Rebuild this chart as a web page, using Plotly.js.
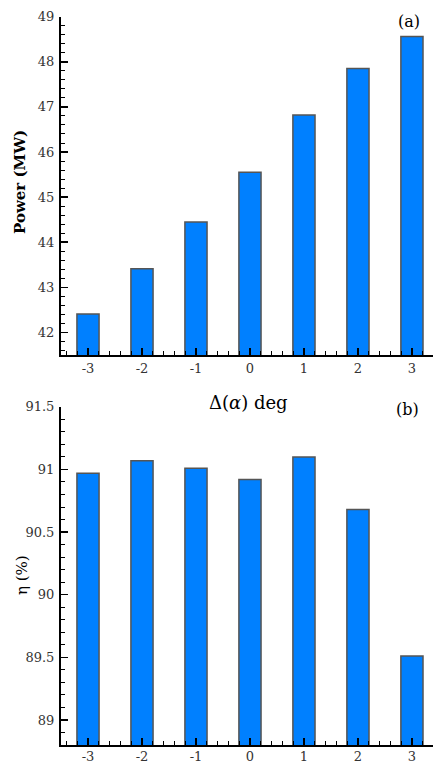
<!DOCTYPE html>
<html>
<head>
<meta charset="utf-8">
<script src="https://cdn.plot.ly/plotly-3.0.1.min.js"></script>
<style>html,body{margin:0;padding:0;background:#fff;}#chart{width:433px;height:763px;}</style>
</head>
<body>
<div id="chart"></div>
<script>
const categories = [-3, -2, -1, 0, 1, 2, 3];
const powerMW = [42.41, 43.41, 44.45, 45.55, 46.82, 47.85, 48.56];
const efficiency = [90.97, 91.07, 91.01, 90.92, 91.10, 90.68, 89.51];
const xTickLabels = ['-3', '-2', '-1', '0', '1', '2', '3'];

const H = 763, W = 433;
const fy = v => 1 - v / H;
const serif = 'DejaVu Serif';

const barStyle = {color: '#0080ff', line: {color: '#555555', width: 1.5}};

const traces = [
  {type: 'bar', x: categories, y: powerMW, width: 0.41, marker: barStyle, xaxis: 'x', yaxis: 'y', hoverinfo: 'none'},
  {type: 'bar', x: categories, y: efficiency, width: 0.41, marker: barStyle, xaxis: 'x2', yaxis: 'y2', hoverinfo: 'none'}
];

const xbase = {
  range: [-3.5, 3.39],
  domain: [61 / W, 1],
  tickmode: 'array', tickvals: categories, ticktext: xTickLabels,
  ticks: 'inside', ticklen: 7, tickwidth: 1.5, tickcolor: '#000',
  minor: {dtick: 0.2, tick0: 0, ticks: 'inside', ticklen: 4, tickwidth: 1, tickcolor: '#000'},
  showline: true, linecolor: '#000', linewidth: 2,
  showgrid: false, zeroline: false, automargin: false, fixedrange: true,
  tickfont: {family: serif, size: 13, color: '#333'}
};
const ybase = {
  ticks: 'inside', ticklen: 7, tickwidth: 1.5, tickcolor: '#000',
  showline: true, linecolor: '#000', linewidth: 2,
  showgrid: false, zeroline: false, automargin: false, fixedrange: true,
  tickfont: {family: serif, size: 13, color: '#333'}, ticklabelstandoff: 2
};

const layout = {
  width: W, height: H,
  margin: {l: 0, r: 0, t: 0, b: 0},
  paper_bgcolor: '#fff', plot_bgcolor: '#fff',
  font: {family: serif},
  showlegend: false,
  xaxis: Object.assign({}, xbase, {anchor: 'y'}),
  xaxis2: Object.assign({}, xbase, {anchor: 'y2', ticklabelstandoff: -2}),
  yaxis: Object.assign({}, ybase, {
    anchor: 'x', domain: [fy(355), fy(16.7)], range: [41.5, 49], dtick: 1, tick0: 0,
    minor: {dtick: 0.2, ticks: 'inside', ticklen: 4, tickwidth: 1, tickcolor: '#000'}
  }),
  yaxis2: Object.assign({}, ybase, {
    anchor: 'x2', domain: [fy(745), fy(406.8)], range: [88.8, 91.5], dtick: 0.5, tick0: 0,
    minor: {dtick: 0.1, ticks: 'inside', ticklen: 4, tickwidth: 1, tickcolor: '#000'}
  }),
  annotations: [
    {text: '<b>Power (MW)</b>', textangle: -90, xref: 'paper', yref: 'paper', x: 20 / W, y: fy(182),
     xanchor: 'center', yanchor: 'middle', showarrow: false, font: {family: serif, size: 15, color: '#000'}},
    {text: 'η (%)', textangle: -90, xref: 'paper', yref: 'paper', x: 22 / W, y: fy(575),
     xanchor: 'center', yanchor: 'middle', showarrow: false, font: {family: serif, size: 15, color: '#000'}},
    {text: 'Δ(<i>α</i>) deg', xref: 'paper', yref: 'paper', x: 248 / W, y: fy(402),
     xanchor: 'center', yanchor: 'middle', showarrow: false, font: {family: serif, size: 18, color: '#000'}},
    {text: '(a)', xref: 'paper', yref: 'paper', x: 409 / W, y: fy(21),
     xanchor: 'center', yanchor: 'middle', showarrow: false, font: {family: serif, size: 16, color: '#000'}},
    {text: '(b)', xref: 'paper', yref: 'paper', x: 407 / W, y: fy(409),
     xanchor: 'center', yanchor: 'middle', showarrow: false, font: {family: serif, size: 16, color: '#000'}}
  ]
};

Plotly.newPlot('chart', traces, layout, {staticPlot: true, displayModeBar: false});
</script>
</body>
</html>
